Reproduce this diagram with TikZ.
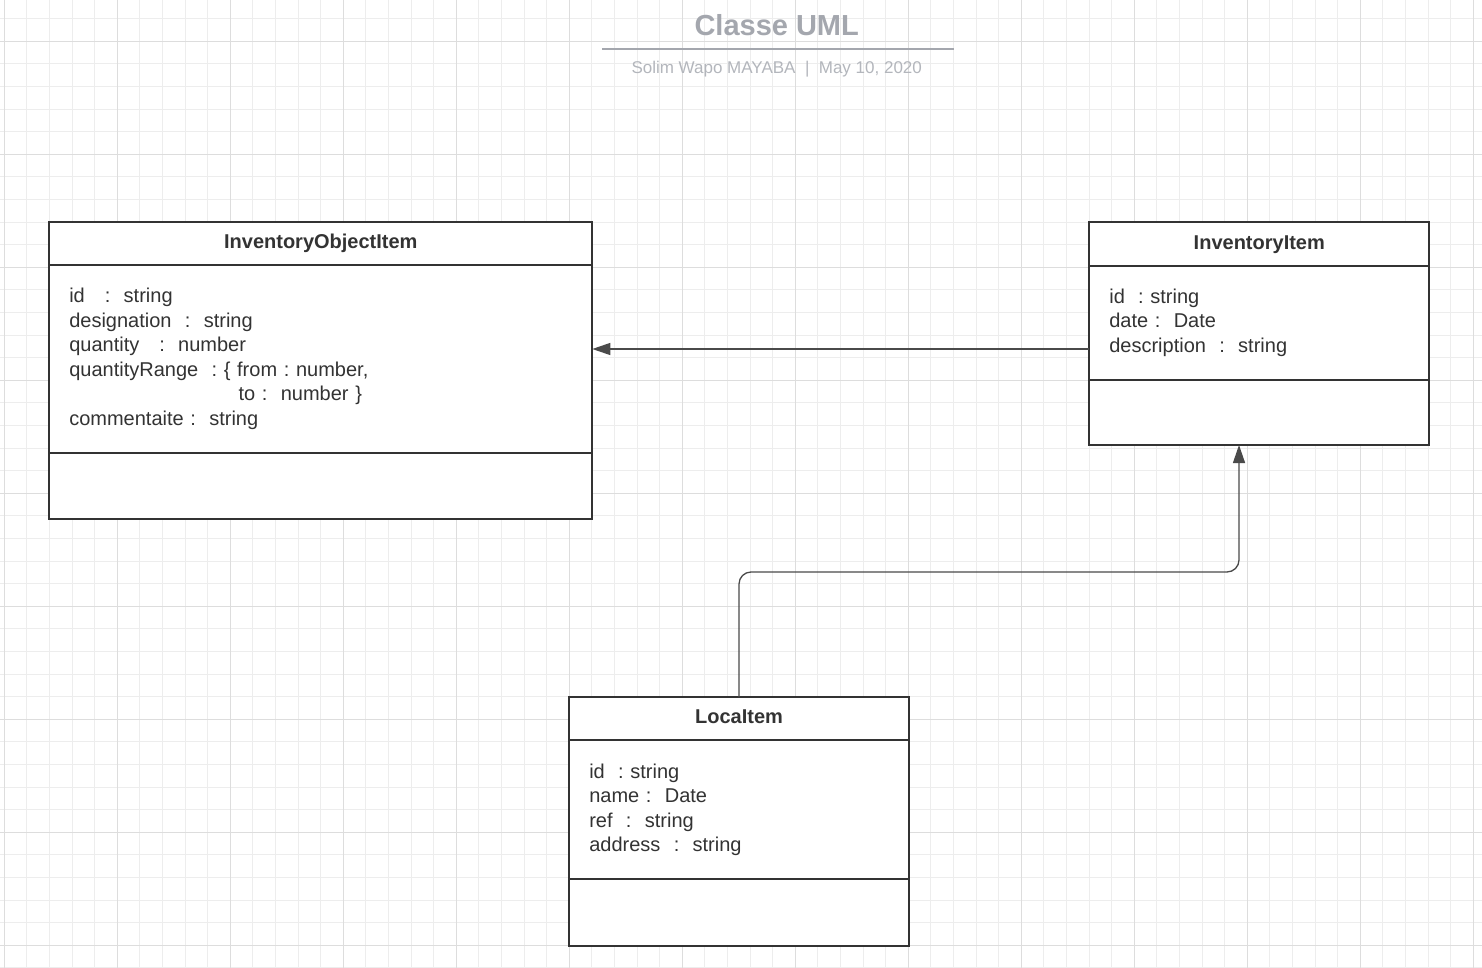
\documentclass[tikz,border=0pt]{standalone}
\usepackage{fontspec}
\setmainfont{Liberation Sans}
\usetikzlibrary{positioning, arrows.meta, calc}

\definecolor{ink}{HTML}{333333}
\definecolor{wire}{HTML}{4A4A4A}
\definecolor{gridminor}{HTML}{EDEDED}
\definecolor{gridmajor}{HTML}{DDDDDD}
\definecolor{titlegray}{HTML}{A4A7AE}
\definecolor{subgray}{HTML}{B3B6BC}

\tikzset{
  head/.style={draw=ink, line width=2pt, fill=white, text=ink, outer sep=0pt, inner sep=0pt,
    font=\fontsize{20}{24}\selectfont\bfseries, text height=14.5pt, text depth=4.2pt},
  attrs/.style={draw=ink, line width=2pt, fill=white, text=ink, outer sep=0pt,
    font=\fontsize{20}{24.5}\selectfont\frenchspacing, align=left, inner xsep=20pt, inner ysep=0pt},
  ops/.style={draw=ink, line width=2pt, fill=white, outer sep=0pt, inner sep=0pt},
  assoc/.style={draw=wire, line width=1.3pt, -{Triangle[length=18pt, width=12pt]}},
}

\begin{document}
\frenchspacing
\begin{tikzpicture}[x=1pt, y=-1pt]
  \useasboundingbox (0,0) rectangle (1482,968);
  \fill[white] (0,0) rectangle (1482,968);

  % grid
  \foreach \i in {0,...,65}
    \draw[gridminor, line width=1pt] (4.3+22.6*\i,0) -- ++(0,968);
  \foreach \j in {0,...,42}
    \draw[gridminor, line width=1pt] (0,18.7+22.6*\j) -- ++(1482,0);
  \foreach \i in {0,...,13}
    \draw[gridmajor, line width=1.2pt] (4.3+113*\i,0) -- ++(0,968);
  \foreach \j in {0,...,8}
    \draw[gridmajor, line width=1.2pt] (0,41.3+113*\j) -- ++(1482,0);

  % title
  \node[font=\fontsize{29}{34}\selectfont\bfseries, text=titlegray, anchor=base] (title) at (776.7,36) {Classe UML};
  \draw[titlegray, line width=2pt] (602,49) -- (954,49);
  \node[font=\fontsize{17}{20}\selectfont, text=subgray, anchor=base] (subtitle) at (776.7,73.3) {Solim Wapo MAYABA~~|~~May 10, 2020};

  % InventoryObjectItem
  \node[head, minimum width=543pt, minimum height=42.7pt, anchor=north west] (objHead) at (49.3,222.3) {InventoryObjectItem};
  \node[attrs, text width=503pt, minimum width=543pt, minimum height=188pt, below=0pt of objHead] (objAttr)
    {id~~~:~~string\\
     designation~~:~~string\\
     quantity~~~:~~number\\
     quantityRange~~: \{ from : number,\\
     \hspace*{169.3pt}to :~~number \}\\
     commentaite :~~string};
  \node[ops, minimum width=543pt, minimum height=66pt, below=0pt of objAttr] (objOps) {};

  % InventoryItem
  \node[head, minimum width=340pt, minimum height=43.4pt, anchor=north west] (invHead) at (1089.3,222.3) {InventoryItem};
  \node[attrs, text width=300pt, minimum width=340pt, minimum height=114pt, below=0pt of invHead] (invAttr)
    {id~~: string\\
     date :~~Date\\
     description~~:~~string};
  \node[ops, minimum width=340pt, minimum height=65.3pt, below=0pt of invAttr] (invOps) {};

  % LocaItem
  \node[head, minimum width=339.4pt, minimum height=43pt, anchor=north west] (locHead) at (569.3,697.3) {LocaItem};
  \node[attrs, text width=299.4pt, minimum width=339.4pt, minimum height=139pt, below=0pt of locHead] (locAttr)
    {id~~: string\\
     name :~~Date\\
     ref~~:~~string\\
     address~~:~~string};
  \node[ops, minimum width=339.4pt, minimum height=66.4pt, below=0pt of locAttr] (locOps) {};

  % associations
  \coordinate (invIn) at ([yshift=-26.3pt]invAttr.west);
  \draw[assoc] (invIn) -- (objAttr.east |- invIn);
  \coordinate (invOut) at ([xshift=-20.3pt]invOps.south);
  \draw[assoc, rounded corners=12pt] (locHead.north) -- ++(0,-125.3) -| (invOut);
\end{tikzpicture}
\end{document}
